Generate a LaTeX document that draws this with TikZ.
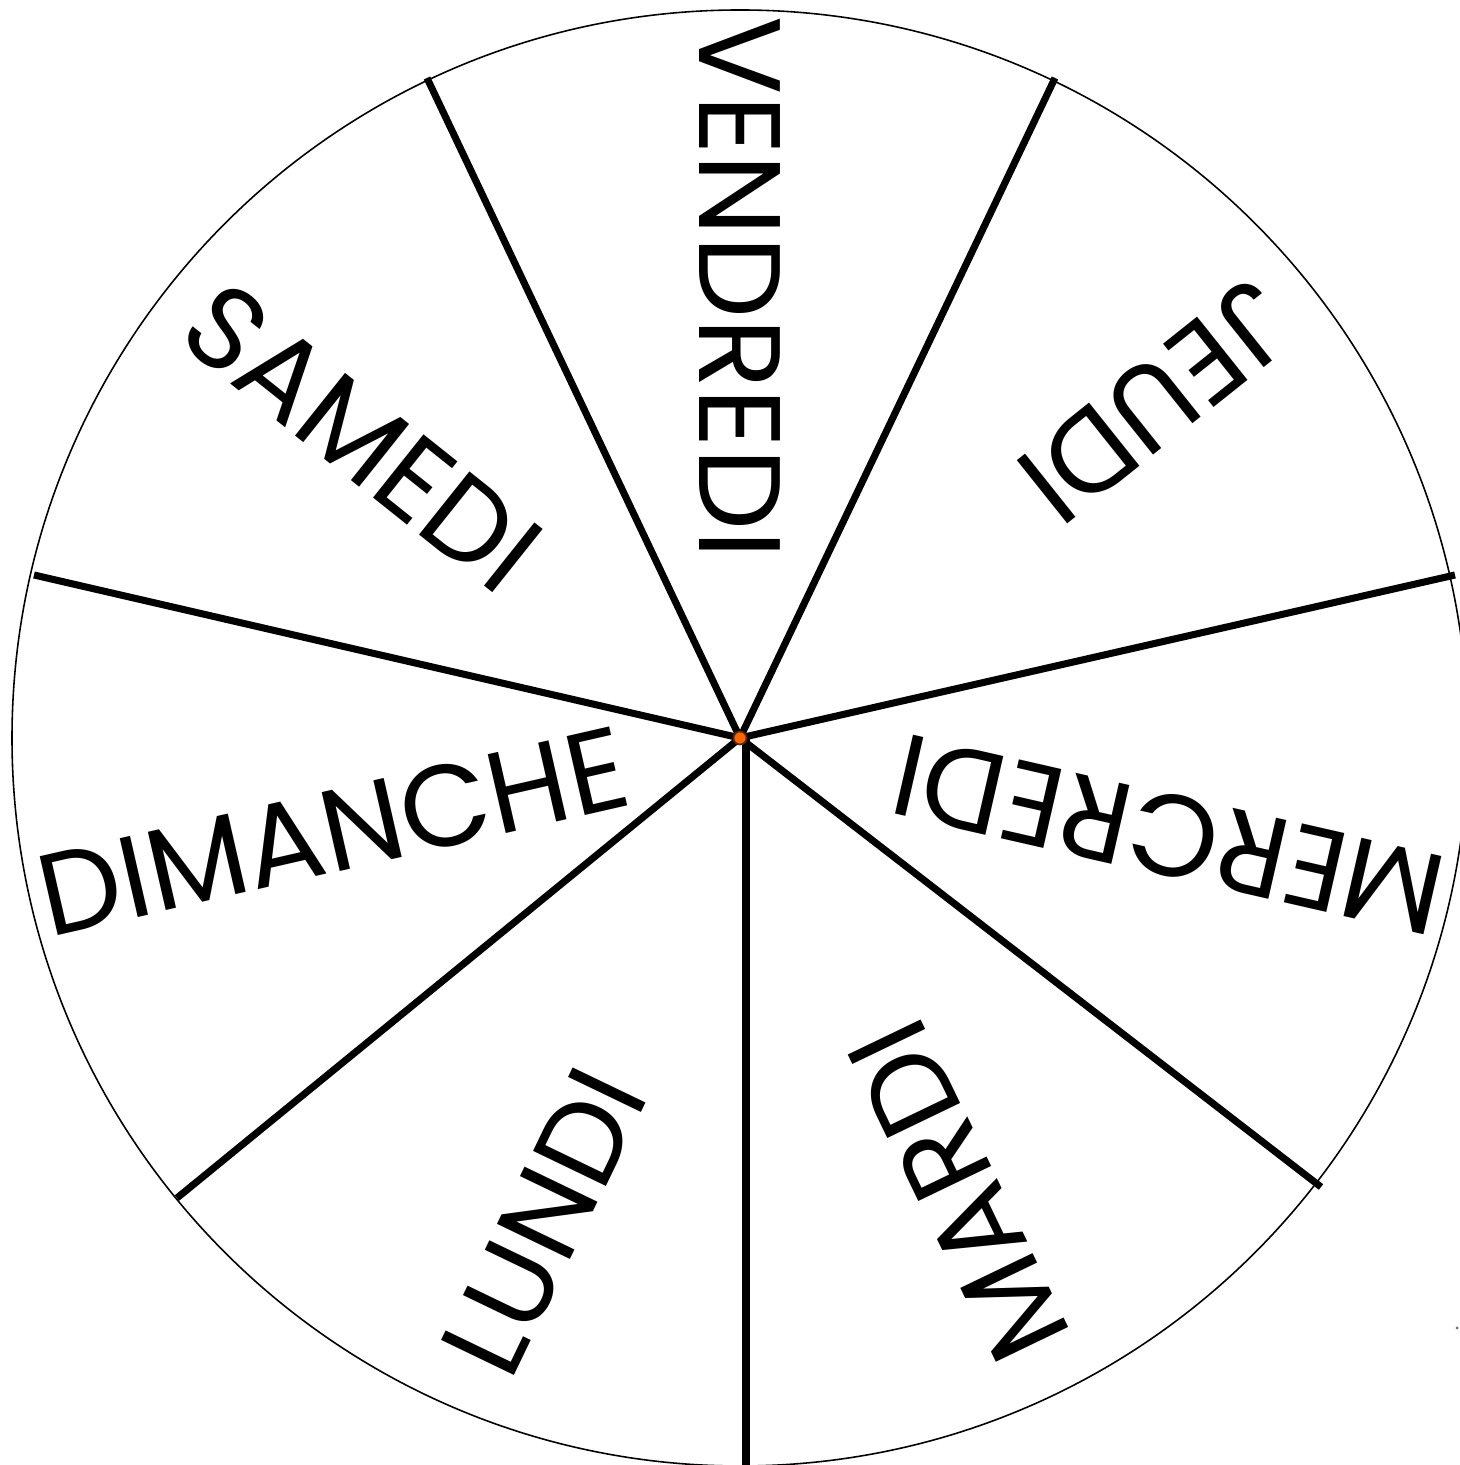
\documentclass[tikz,border=0pt]{standalone}
\usepackage{fontspec}
\newfontfamily\dayfont{Poppins}
\usetikzlibrary{calc}
\definecolor{hubfill}{RGB}{255,102,0}
\definecolor{hubline}{RGB}{90,40,0}
\tikzset{
  rim/.style={draw=black, line width=0.45pt},
  spoke/.style={draw=black, line width=2pt, line cap=butt},
  hub/.style={circle, fill=hubfill, draw=hubline, line width=0.5pt, minimum size=1.3mm, inner sep=0pt},
  day/.style={font=\dayfont\fontsize{33}{33}\selectfont, inner sep=0pt, text depth=0pt, anchor=west},
}
\begin{document}
\begin{tikzpicture}[x=0.1mm,y=0.1mm]
\useasboundingbox (0,0) rectangle (1459,1465);
\coordinate (C) at (740,727);
\draw[rim] (C) circle[radius=728];
% spoke ends
\coordinate (r1) at (1321,278);
\coordinate (r2) at (1455,890);
\coordinate (r3) at (1055,1387);
\coordinate (r4) at (427,1387);
\coordinate (r5) at (34,890);
\coordinate (r6) at (177,267);
\coordinate (b0) at (746,727);
\coordinate (r0) at (746,0);
\foreach \i in {1,...,6}{ \draw[spoke] (C) -- (r\i); }
\draw[spoke] (b0) -- (r0);
\node[hub] (hub) at (C) {};
\node[circle, fill=black!60, inner sep=0pt, minimum size=0.3mm] (speck) at (1457,137) {};
% labels: placed along each sector's bisector, reading inward
\node[day, rotate=-90]    (ven) at ($(C)+(90:722)$)     {VENDREDI};
\node[day, rotate=-38.57] (sam) at ($(C)+(141.43:692)$) {SAMEDI};
\node[day, rotate=12.86]  (dim) at ($(C)+(192.86:718)$) {DIMANCHE};
\node[day, rotate=64.29]  (lun) at ($(C)+(244.29:682)+(30,-14)$) {LUNDI};
\node[day, rotate=115.71] (mar) at ($(C)+(295.71:683)$) {MARDI};
\node[day, rotate=167.14] (mer) at ($(C)+(347.14:720)$) {MERCREDI};
\node[day, rotate=218.57] (jeu) at ($(C)+(38.57:686)+(2,6)$)  {JEUDI};
\end{tikzpicture}
\end{document}
